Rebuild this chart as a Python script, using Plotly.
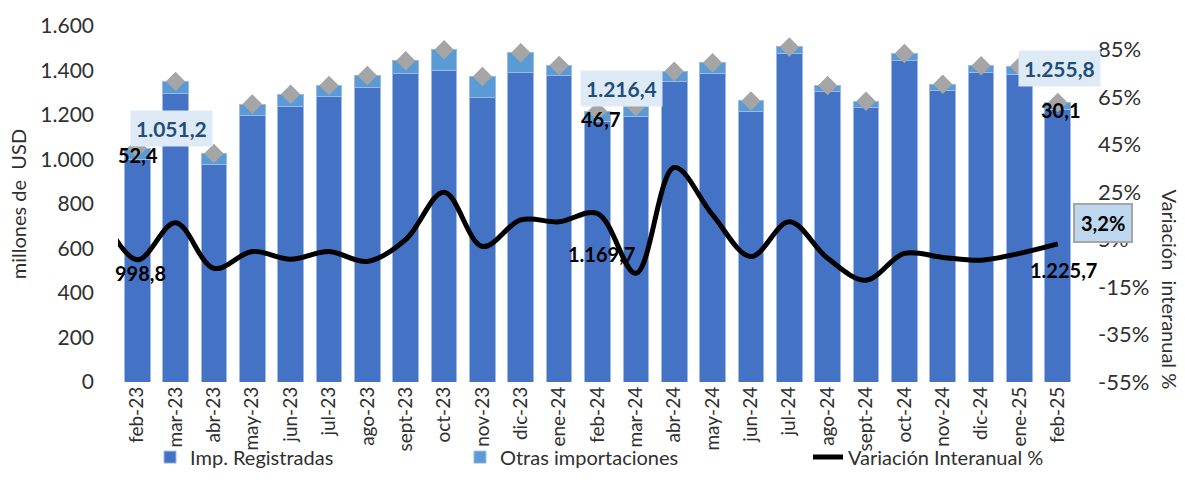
import plotly.graph_objects as go

months = ["feb-23", "mar-23", "abr-23", "may-23", "jun-23", "jul-23", "ago-23", "sept-23",
          "oct-23", "nov-23", "dic-23", "ene-24", "feb-24", "mar-24", "abr-24", "may-24",
          "jun-24", "jul-24", "ago-24", "sept-24", "oct-24", "nov-24", "dic-24", "ene-25", "feb-25"]

imp_registradas = [998.8, 1298, 978, 1196, 1240, 1284, 1324, 1387, 1400, 1280, 1391, 1378,
                   1169.7, 1193, 1351, 1387, 1218, 1476, 1304, 1232, 1446, 1308, 1393, 1383, 1225.7]
otras_importaciones = [52.4, 53, 49, 53, 53, 49, 54, 57, 93, 93, 89, 44,
                       46.7, 45, 46, 48, 45, 30, 29, 30, 30, 30, 28, 35, 30.1]
# variation of the month before the window (line enters from the left edge, clipped)
variacion_previa = 18.0
variacion_interanual = [-3.5, 12.1, -7.1, 0.0, -3.3, 0.0, -4.2, 5.0, 25.0, 2.1, 13.3, 12.5,
                        16.0, -9.2, 35.4, 15.4, -2.1, 12.5, -2.9, -12.1, -0.8, -2.5, -3.7, -0.8, 3.2]

left_ticks = [0, 200, 400, 600, 800, 1000, 1200, 1400, 1600]
right_ticks = [-55, -35, -15, 5, 25, 45, 65, 85]

FONT = "Lato"
C_REG = "#4472C4"
C_OTR = "#5B9BD5"
C_DIA = "#A5A5A5"
TXT = "#303030"


def fmt_es(v, dec=1):
    s = f"{v:,.{dec}f}"
    return s.replace(",", "X").replace(".", ",").replace("X", ".")


def fmt_int_es(v):
    return f"{v:,.0f}".replace(",", ".")


xs = list(range(len(months)))
totales = [r + o for r, o in zip(imp_registradas, otras_importaciones)]

fig = go.Figure()
fig.add_trace(go.Bar(x=xs, y=imp_registradas, name="Imp. Registradas",
                     marker=dict(color=C_REG, line=dict(color="#9DB9E6", width=1)),
                     legend="legend"))
fig.add_trace(go.Bar(x=xs, y=otras_importaciones, name="Otras importaciones",
                     marker=dict(color=C_OTR, line=dict(color="#9DB9E6", width=1)),
                     legend="legend2"))
fig.add_trace(go.Scatter(x=xs, y=totales, mode="markers", showlegend=False,
                         marker=dict(symbol="diamond", size=15, color=C_DIA)))
fig.add_trace(go.Scatter(x=[-1] + xs, y=[variacion_previa] + variacion_interanual,
                         mode="lines", name="Variación Interanual %", yaxis="y2",
                         line=dict(color="black", width=5, shape="spline", smoothing=1.0),
                         legend="legend3"))

ann = []
idxs = [0, 12, 24]
tot_shift = {0: (34, 20), 12: (24, 23), 24: (2, 34)}
otr_shift = {0: (1, -7), 12: (3, -8), 24: (3, -7)}
reg_shift = {0: (3, -2), 12: (4, -2), 24: (6, -24)}
for i in idxs:
    dx, dy = tot_shift[i]
    ann.append(dict(x=xs[i], y=totales[i], xref="x", yref="y", text=fmt_es(totales[i]),
                    showarrow=False, xshift=dx, yshift=dy, bgcolor="#DEEBF7", borderpad=5,
                    font=dict(family=FONT, size=21, color="#1F4E79", weight="bold")))
    dx, dy = otr_shift[i]
    ann.append(dict(x=xs[i], y=totales[i], xref="x", yref="y", text=fmt_es(otras_importaciones[i]),
                    showarrow=False, xshift=dx, yshift=dy,
                    font=dict(family=FONT, size=20, color="black", weight="bold")))
    dx, dy = reg_shift[i]
    ann.append(dict(x=xs[i], y=imp_registradas[i] / 2, xref="x", yref="y",
                    text=fmt_es(imp_registradas[i]),
                    showarrow=False, xshift=dx, yshift=dy,
                    font=dict(family=FONT, size=20, color="black", weight="bold")))
last = len(xs) - 1
ann.append(dict(x=xs[last], y=variacion_interanual[last], xref="x", yref="y2",
                text=fmt_es(variacion_interanual[last]) + "%", showarrow=False,
                xshift=45, yshift=21, bgcolor="#BDD7EE", bordercolor="#A6A6A6",
                borderwidth=2, borderpad=6,
                font=dict(family=FONT, size=20, color="black", weight="bold")))
ann.append(dict(x=1.097, y=0.26, xref="paper", yref="paper", text="Variación  interanual %",
                textangle=90, showarrow=False, xanchor="center", yanchor="middle",
                font=dict(family=FONT, size=20, color=TXT)))

legend_common = dict(orientation="h", yanchor="middle", y=-0.211, xanchor="left",
                     font=dict(family=FONT, size=20, color=TXT), bgcolor="rgba(0,0,0,0)")

fig.update_layout(
    width=1185, height=497,
    margin=dict(l=118, r=108, t=22, b=115),
    paper_bgcolor="white", plot_bgcolor="white",
    barmode="stack", bargap=0.33,
    font=dict(family=FONT, color=TXT),
    xaxis=dict(range=[-0.5, len(xs) - 0.5], tickvals=xs, ticktext=months, tickangle=-90,
               showgrid=False, zeroline=False, showline=False, ticks="",
               tickfont=dict(family=FONT, size=19, color=TXT)),
    yaxis=dict(range=[0, 1600], tickvals=left_ticks, ticktext=[fmt_int_es(v) for v in left_ticks],
               showgrid=False, zeroline=False, showline=False, ticks="",
               ticklabelstandoff=23,
               tickfont=dict(family=FONT, size=21, color=TXT),
               title=dict(text="millones de  USD", standoff=8,
                          font=dict(family=FONT, size=20, color=TXT))),
    yaxis2=dict(range=[-55, 95], tickvals=right_ticks, ticktext=[f"{v}%" for v in right_ticks],
                overlaying="y", side="right", showgrid=False, zeroline=False, showline=False,
                ticks="", ticklabelstandoff=20,
                tickfont=dict(family=FONT, size=22, color=TXT)),
    legend=dict(legend_common, x=0.0334),
    legend2=dict(legend_common, x=0.3566),
    legend3=dict(legend_common, x=0.7195),
    annotations=ann,
)

fig.write_html("out.html", config={"displayModeBar": False},
               post_script="document.body.style.margin='0';")
